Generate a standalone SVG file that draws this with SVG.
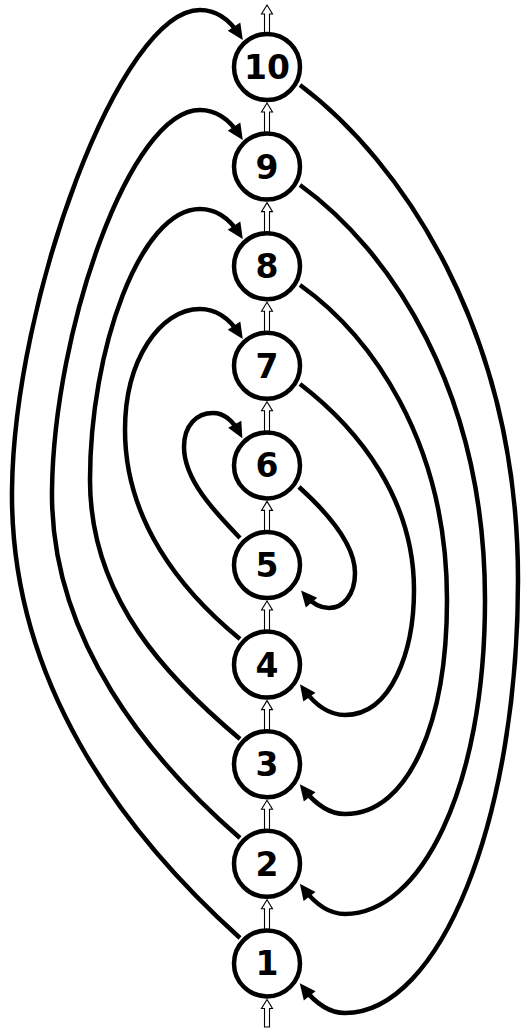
<svg xmlns="http://www.w3.org/2000/svg" width="522" height="1032" viewBox="0 0 522 1032">
<style>
.e{fill:none;stroke:#000;stroke-width:4.5;marker-end:url(#ah)}
.h{fill:#fff;stroke:#000;stroke-width:1.1;stroke-linejoin:miter}
.n circle{fill:#fff;stroke:#000;stroke-width:4.5}
.n text{font-family:"DejaVu Sans",Verdana,sans-serif;font-weight:bold;font-size:33px;text-anchor:middle;fill:#000}
</style>
<defs>
<marker id="ah" markerUnits="userSpaceOnUse" viewBox="-12 -9 20 18" markerWidth="20" markerHeight="18" refX="0" refY="0" orient="auto" overflow="visible">
<path d="M6,0 L-10,-7.5 L-10,7.5 Z" fill="#000"/>
</marker>
</defs>
<g id="connectors">
<path class="h" d="M267,5 L272.5,14 L269.5,14 L269.5,36 L264.5,36 L264.5,14 L261.5,14 Z"/>
<path class="h" d="M267,103 L272.5,112 L269.5,112 L269.5,136 L264.5,136 L264.5,112 L261.5,112 Z"/>
<path class="h" d="M267,202.6 L272.5,211.6 L269.5,211.6 L269.5,235 L264.5,235 L264.5,211.6 L261.5,211.6 Z"/>
<path class="h" d="M267,302.2 L272.5,311.2 L269.5,311.2 L269.5,335 L264.5,335 L264.5,311.2 L261.5,311.2 Z"/>
<path class="h" d="M267,401.8 L272.5,410.8 L269.5,410.8 L269.5,434 L264.5,434 L264.5,410.8 L261.5,410.8 Z"/>
<path class="h" d="M267,501.4 L272.5,510.4 L269.5,510.4 L269.5,534 L264.5,534 L264.5,510.4 L261.5,510.4 Z"/>
<path class="h" d="M267,601 L272.5,610 L269.5,610 L269.5,634 L264.5,634 L264.5,610 L261.5,610 Z"/>
<path class="h" d="M267,700.6 L272.5,709.6 L269.5,709.6 L269.5,733 L264.5,733 L264.5,709.6 L261.5,709.6 Z"/>
<path class="h" d="M267,800.2 L272.5,809.2 L269.5,809.2 L269.5,833 L264.5,833 L264.5,809.2 L261.5,809.2 Z"/>
<path class="h" d="M267,899.8 L272.5,908.8 L269.5,908.8 L269.5,932 L264.5,932 L264.5,908.8 L261.5,908.8 Z"/>
<path class="h" d="M267,999.5 L272.5,1008.5 L269.5,1008.5 L269.5,1027 L264.5,1027 L264.5,1008.5 L261.5,1008.5 Z"/>
<path class="e" d="M240,938 C120,830 10,680 12,490 C14,300 120,10 200,10 C219,10 231,22 239.5,35"/>
<path class="e" d="M240,838 C150,760 50,640 52,490 C54,330 130,110 200,110 C219,110 231,122 239.5,135"/>
<path class="e" d="M240,739 C170,680 90,600 90,480 C90,350 140,209 200,209 C219,209 231,221 239.5,234"/>
<path class="e" d="M240,639 C180,590 125,520 125,430 C125,360 160,309 200,309 C219,309 231,321 239.5,334"/>
<path class="e" d="M240,538 C215,512 184,480 184,447 C184,425 197,413 213,413 C225,413 233,421 239.5,433"/>
<path class="e" d="M300,85 C400,160 518,330 518,580 C518,820 440,1013 345,1013 C326,1013 313,1000 303.5,988"/>
<path class="e" d="M300,185 C390,250 485,390 485,600 C485,790 420,914 345,914 C326,914 313,901 303.5,888.5"/>
<path class="e" d="M300,285 C370,335 447,440 447,600 C447,720 410,814 345,814 C326,814 313,801 303.5,789"/>
<path class="e" d="M300,384 C360,430 414,500 414,590 C414,650 392,715 345,715 C326,715 313,702 303.5,689"/>
<path class="e" d="M299,487 C330,515 355,545 355,573 C355,595 343,608 329,608 C318,608 311,602 305,595"/>
</g>
<g id="node10" class="n"><circle cx="267" cy="67" r="33"/><text x="267" y="79">10</text></g>
<g id="node9" class="n"><circle cx="267" cy="166.6" r="33"/><text x="267" y="178.6">9</text></g>
<g id="node8" class="n"><circle cx="267" cy="266.2" r="33"/><text x="267" y="278.2">8</text></g>
<g id="node7" class="n"><circle cx="267" cy="365.8" r="33"/><text x="267" y="377.8">7</text></g>
<g id="node6" class="n"><circle cx="267" cy="465.4" r="33"/><text x="267" y="477.4">6</text></g>
<g id="node5" class="n"><circle cx="267" cy="565" r="33"/><text x="267" y="577">5</text></g>
<g id="node4" class="n"><circle cx="267" cy="664.6" r="33"/><text x="267" y="676.6">4</text></g>
<g id="node3" class="n"><circle cx="267" cy="764.2" r="33"/><text x="267" y="776.2">3</text></g>
<g id="node2" class="n"><circle cx="267" cy="863.8" r="33"/><text x="267" y="875.8">2</text></g>
<g id="node1" class="n"><circle cx="267" cy="963.4" r="33"/><text x="267" y="975.4">1</text></g>
</svg>
